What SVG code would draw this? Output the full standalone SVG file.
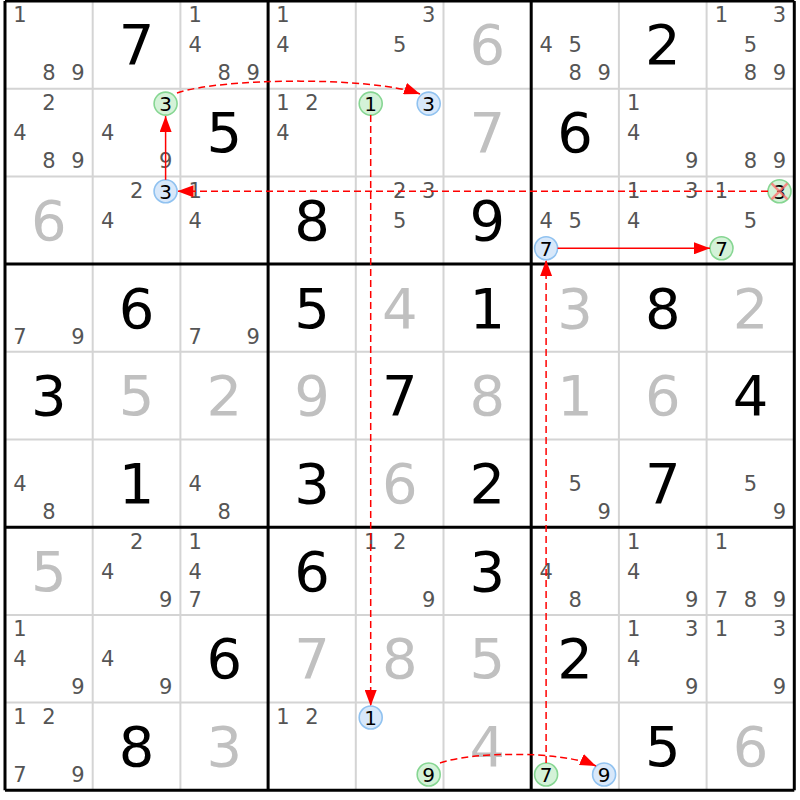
<svg xmlns="http://www.w3.org/2000/svg" width="800" height="800" viewBox="0 0 800 800">
<style>
.c{font-family:"DejaVu Sans",Verdana,sans-serif;font-size:21px;fill:#555;text-anchor:middle}
.t{font-family:"DejaVu Sans",Verdana,sans-serif;font-size:20px;fill:#000;text-anchor:middle}
.g{font-family:"DejaVu Sans",Verdana,sans-serif;font-size:56px;fill:#000;text-anchor:middle}
.s{font-family:"DejaVu Sans",Verdana,sans-serif;font-size:56px;fill:#c0c0c0;text-anchor:middle}
.hg{fill:#d4f2d8;stroke:#86d692;stroke-width:1.6}
.hb{fill:#d8e8fa;stroke:#90c2f0;stroke-width:1.6}
.x{stroke:#ff6b6b;stroke-opacity:0.75;stroke-width:2.5}
.thin{stroke:#d4d4d4;stroke-width:2}
.thick{stroke:#000;stroke-width:3}
.ln{fill:none;stroke:#ff0000;stroke-width:1.5;marker-end:url(#ah)}
.d{stroke-dasharray:7 4}
</style>
<defs>
<marker id="ah" markerUnits="userSpaceOnUse" markerWidth="16" markerHeight="12" viewBox="0 0 16 12" refX="16" refY="6" orient="auto">
<path d="M0,0 L16,6 L0,12 z" fill="#ff0000"/>
</marker>
</defs>
<rect width="800" height="800" fill="#fff"/>
<g id="grid">
<path class="thin" d="M92.7,1V790.3M180.4,1V790.3M443.5,1V790.3M531.2,1V790.3M618.9,1V790.3M706.6,1V790.3M355.8,1V790.3M268.1,1V790.3"/>
<path class="thin" d="M5,88.7H794.3M5,176.4H794.3M5,439.5H794.3M5,527.2H794.3M5,614.9H794.3M5,702.6H794.3M5,351.8H794.3M5,264.1H794.3"/>
<path class="thick" d="M5,1V790.3M268.1,1V790.3M531.2,1V790.3M794.3,1V790.3M5,1H794.3M5,264.1H794.3M5,527.2H794.3M5,790.3H794.3"/>
</g>
<g id="cells">
<g id="r1c1" transform="translate(48.9,44.9)"><text class="c" x="-29" y="-22.5">1</text><text class="c" x="0" y="35.5">8</text><text class="c" x="29" y="35.5">9</text></g>
<g id="r1c2" transform="translate(136.6,44.9)"><text class="g" y="19.5">7</text></g>
<g id="r1c3" transform="translate(224.3,44.9)"><text class="c" x="-29" y="-22.5">1</text><text class="c" x="-29" y="7.5">4</text><text class="c" x="0" y="35.5">8</text><text class="c" x="29" y="35.5">9</text></g>
<g id="r1c4" transform="translate(312,44.9)"><text class="c" x="-29" y="-22.5">1</text><text class="c" x="-29" y="7.5">4</text></g>
<g id="r1c5" transform="translate(399.7,44.9)"><text class="c" x="29" y="-22.5">3</text><text class="c" x="0" y="7.5">5</text></g>
<g id="r1c6" transform="translate(487.4,44.9)"><text class="s" y="19.5">6</text></g>
<g id="r1c7" transform="translate(575.1,44.9)"><text class="c" x="-29" y="7.5">4</text><text class="c" x="0" y="7.5">5</text><text class="c" x="0" y="35.5">8</text><text class="c" x="29" y="35.5">9</text></g>
<g id="r1c8" transform="translate(662.8,44.9)"><text class="g" y="19.5">2</text></g>
<g id="r1c9" transform="translate(750.5,44.9)"><text class="c" x="-29" y="-22.5">1</text><text class="c" x="29" y="-22.5">3</text><text class="c" x="0" y="7.5">5</text><text class="c" x="0" y="35.5">8</text><text class="c" x="29" y="35.5">9</text></g>

<g id="r2c1" transform="translate(48.9,132.6)"><text class="c" x="0" y="-22.5">2</text><text class="c" x="-29" y="7.5">4</text><text class="c" x="0" y="35.5">8</text><text class="c" x="29" y="35.5">9</text></g>
<g id="r2c2" transform="translate(136.6,132.6)"><circle class="hg" cx="29" cy="-29" r="11.5"/><text class="t" x="29" y="-21.7">3</text><text class="c" x="-29" y="7.5">4</text><text class="c" x="29" y="35.5">9</text></g>
<g id="r2c3" transform="translate(224.3,132.6)"><text class="g" y="19.5">5</text></g>
<g id="r2c4" transform="translate(312,132.6)"><text class="c" x="-29" y="-22.5">1</text><text class="c" x="0" y="-22.5">2</text><text class="c" x="-29" y="7.5">4</text></g>
<g id="r2c5" transform="translate(399.7,132.6)"><circle class="hg" cx="-29" cy="-29" r="11.5"/><text class="t" x="-29" y="-21.7">1</text><circle class="hb" cx="29" cy="-29" r="11.5"/><text class="t" x="29" y="-21.7">3</text></g>
<g id="r2c6" transform="translate(487.4,132.6)"><text class="s" y="19.5">7</text></g>
<g id="r2c7" transform="translate(575.1,132.6)"><text class="g" y="19.5">6</text></g>
<g id="r2c8" transform="translate(662.8,132.6)"><text class="c" x="-29" y="-22.5">1</text><text class="c" x="-29" y="7.5">4</text><text class="c" x="29" y="35.5">9</text></g>
<g id="r2c9" transform="translate(750.5,132.6)"><text class="c" x="0" y="35.5">8</text><text class="c" x="29" y="35.5">9</text></g>

<g id="r3c1" transform="translate(48.9,220.3)"><text class="s" y="19.5">6</text></g>
<g id="r3c2" transform="translate(136.6,220.3)"><text class="c" x="0" y="-22.5">2</text><circle class="hb" cx="29" cy="-29" r="11.5"/><text class="t" x="29" y="-21.7">3</text><text class="c" x="-29" y="7.5">4</text></g>
<g id="r3c3" transform="translate(224.3,220.3)"><text class="c" x="-29" y="-22.5">1</text><text class="c" x="-29" y="7.5">4</text></g>
<g id="r3c4" transform="translate(312,220.3)"><text class="g" y="19.5">8</text></g>
<g id="r3c5" transform="translate(399.7,220.3)"><text class="c" x="0" y="-22.5">2</text><text class="c" x="29" y="-22.5">3</text><text class="c" x="0" y="7.5">5</text></g>
<g id="r3c6" transform="translate(487.4,220.3)"><text class="g" y="19.5">9</text></g>
<g id="r3c7" transform="translate(575.1,220.3)"><text class="c" x="-29" y="7.5">4</text><text class="c" x="0" y="7.5">5</text><circle class="hb" cx="-29" cy="28" r="11.5"/><text class="t" x="-29" y="35.3">7</text></g>
<g id="r3c8" transform="translate(662.8,220.3)"><text class="c" x="-29" y="-22.5">1</text><text class="c" x="29" y="-22.5">3</text><text class="c" x="-29" y="7.5">4</text></g>
<g id="r3c9" transform="translate(750.5,220.3)"><text class="c" x="-29" y="-22.5">1</text><circle class="hg" cx="29" cy="-29" r="11.5"/><text class="t" x="29" y="-21.7">3</text><path class="x" d="M21,-37L37,-21M21,-21L37,-37"/><text class="c" x="0" y="7.5">5</text><circle class="hg" cx="-29" cy="28" r="11.5"/><text class="t" x="-29" y="35.3">7</text></g>

<g id="r4c1" transform="translate(48.9,308)"><text class="c" x="-29" y="35.5">7</text><text class="c" x="29" y="35.5">9</text></g>
<g id="r4c2" transform="translate(136.6,308)"><text class="g" y="19.5">6</text></g>
<g id="r4c3" transform="translate(224.3,308)"><text class="c" x="-29" y="35.5">7</text><text class="c" x="29" y="35.5">9</text></g>
<g id="r4c4" transform="translate(312,308)"><text class="g" y="19.5">5</text></g>
<g id="r4c5" transform="translate(399.7,308)"><text class="s" y="19.5">4</text></g>
<g id="r4c6" transform="translate(487.4,308)"><text class="g" y="19.5">1</text></g>
<g id="r4c7" transform="translate(575.1,308)"><text class="s" y="19.5">3</text></g>
<g id="r4c8" transform="translate(662.8,308)"><text class="g" y="19.5">8</text></g>
<g id="r4c9" transform="translate(750.5,308)"><text class="s" y="19.5">2</text></g>

<g id="r5c1" transform="translate(48.9,395.7)"><text class="g" y="19.5">3</text></g>
<g id="r5c2" transform="translate(136.6,395.7)"><text class="s" y="19.5">5</text></g>
<g id="r5c3" transform="translate(224.3,395.7)"><text class="s" y="19.5">2</text></g>
<g id="r5c4" transform="translate(312,395.7)"><text class="s" y="19.5">9</text></g>
<g id="r5c5" transform="translate(399.7,395.7)"><text class="g" y="19.5">7</text></g>
<g id="r5c6" transform="translate(487.4,395.7)"><text class="s" y="19.5">8</text></g>
<g id="r5c7" transform="translate(575.1,395.7)"><text class="s" y="19.5">1</text></g>
<g id="r5c8" transform="translate(662.8,395.7)"><text class="s" y="19.5">6</text></g>
<g id="r5c9" transform="translate(750.5,395.7)"><text class="g" y="19.5">4</text></g>

<g id="r6c1" transform="translate(48.9,483.4)"><text class="c" x="-29" y="7.5">4</text><text class="c" x="0" y="35.5">8</text></g>
<g id="r6c2" transform="translate(136.6,483.4)"><text class="g" y="19.5">1</text></g>
<g id="r6c3" transform="translate(224.3,483.4)"><text class="c" x="-29" y="7.5">4</text><text class="c" x="0" y="35.5">8</text></g>
<g id="r6c4" transform="translate(312,483.4)"><text class="g" y="19.5">3</text></g>
<g id="r6c5" transform="translate(399.7,483.4)"><text class="s" y="19.5">6</text></g>
<g id="r6c6" transform="translate(487.4,483.4)"><text class="g" y="19.5">2</text></g>
<g id="r6c7" transform="translate(575.1,483.4)"><text class="c" x="0" y="7.5">5</text><text class="c" x="29" y="35.5">9</text></g>
<g id="r6c8" transform="translate(662.8,483.4)"><text class="g" y="19.5">7</text></g>
<g id="r6c9" transform="translate(750.5,483.4)"><text class="c" x="0" y="7.5">5</text><text class="c" x="29" y="35.5">9</text></g>

<g id="r7c1" transform="translate(48.9,571.1)"><text class="s" y="19.5">5</text></g>
<g id="r7c2" transform="translate(136.6,571.1)"><text class="c" x="0" y="-22.5">2</text><text class="c" x="-29" y="7.5">4</text><text class="c" x="29" y="35.5">9</text></g>
<g id="r7c3" transform="translate(224.3,571.1)"><text class="c" x="-29" y="-22.5">1</text><text class="c" x="-29" y="7.5">4</text><text class="c" x="-29" y="35.5">7</text></g>
<g id="r7c4" transform="translate(312,571.1)"><text class="g" y="19.5">6</text></g>
<g id="r7c5" transform="translate(399.7,571.1)"><text class="c" x="-29" y="-22.5">1</text><text class="c" x="0" y="-22.5">2</text><text class="c" x="29" y="35.5">9</text></g>
<g id="r7c6" transform="translate(487.4,571.1)"><text class="g" y="19.5">3</text></g>
<g id="r7c7" transform="translate(575.1,571.1)"><text class="c" x="-29" y="7.5">4</text><text class="c" x="0" y="35.5">8</text></g>
<g id="r7c8" transform="translate(662.8,571.1)"><text class="c" x="-29" y="-22.5">1</text><text class="c" x="-29" y="7.5">4</text><text class="c" x="29" y="35.5">9</text></g>
<g id="r7c9" transform="translate(750.5,571.1)"><text class="c" x="-29" y="-22.5">1</text><text class="c" x="-29" y="35.5">7</text><text class="c" x="0" y="35.5">8</text><text class="c" x="29" y="35.5">9</text></g>

<g id="r8c1" transform="translate(48.9,658.8)"><text class="c" x="-29" y="-22.5">1</text><text class="c" x="-29" y="7.5">4</text><text class="c" x="29" y="35.5">9</text></g>
<g id="r8c2" transform="translate(136.6,658.8)"><text class="c" x="-29" y="7.5">4</text><text class="c" x="29" y="35.5">9</text></g>
<g id="r8c3" transform="translate(224.3,658.8)"><text class="g" y="19.5">6</text></g>
<g id="r8c4" transform="translate(312,658.8)"><text class="s" y="19.5">7</text></g>
<g id="r8c5" transform="translate(399.7,658.8)"><text class="s" y="19.5">8</text></g>
<g id="r8c6" transform="translate(487.4,658.8)"><text class="s" y="19.5">5</text></g>
<g id="r8c7" transform="translate(575.1,658.8)"><text class="g" y="19.5">2</text></g>
<g id="r8c8" transform="translate(662.8,658.8)"><text class="c" x="-29" y="-22.5">1</text><text class="c" x="29" y="-22.5">3</text><text class="c" x="-29" y="7.5">4</text><text class="c" x="29" y="35.5">9</text></g>
<g id="r8c9" transform="translate(750.5,658.8)"><text class="c" x="-29" y="-22.5">1</text><text class="c" x="29" y="-22.5">3</text><text class="c" x="29" y="35.5">9</text></g>

<g id="r9c1" transform="translate(48.9,746.5)"><text class="c" x="-29" y="-22.5">1</text><text class="c" x="0" y="-22.5">2</text><text class="c" x="-29" y="35.5">7</text><text class="c" x="29" y="35.5">9</text></g>
<g id="r9c2" transform="translate(136.6,746.5)"><text class="g" y="19.5">8</text></g>
<g id="r9c3" transform="translate(224.3,746.5)"><text class="s" y="19.5">3</text></g>
<g id="r9c4" transform="translate(312,746.5)"><text class="c" x="-29" y="-22.5">1</text><text class="c" x="0" y="-22.5">2</text></g>
<g id="r9c5" transform="translate(399.7,746.5)"><circle class="hb" cx="-29" cy="-29" r="11.5"/><text class="t" x="-29" y="-21.7">1</text><circle class="hg" cx="29" cy="28" r="11.5"/><text class="t" x="29" y="35.3">9</text></g>
<g id="r9c6" transform="translate(487.4,746.5)"><text class="s" y="19.5">4</text></g>
<g id="r9c7" transform="translate(575.1,746.5)"><circle class="hg" cx="-29" cy="28" r="11.5"/><text class="t" x="-29" y="35.3">7</text><circle class="hb" cx="29" cy="28" r="11.5"/><text class="t" x="29" y="35.3">9</text></g>
<g id="r9c8" transform="translate(662.8,746.5)"><text class="g" y="19.5">5</text></g>
<g id="r9c9" transform="translate(750.5,746.5)"><text class="s" y="19.5">6</text></g>
</g>
<g id="connectors">
<path class="ln" d="M165.6,179.8V116"/>
<path class="ln d" d="M177,93C220,78 370,76 420,94"/>
<path class="ln d" d="M370.7,115V706"/>
<path class="ln d" d="M768,191.3H177.5"/>
<path class="ln" d="M557.6,248.3H710"/>
<path class="ln d" d="M546.1,763V260"/>
<path class="ln d" d="M440,763C470,752 560,750 596,766"/>
</g>
</svg>
